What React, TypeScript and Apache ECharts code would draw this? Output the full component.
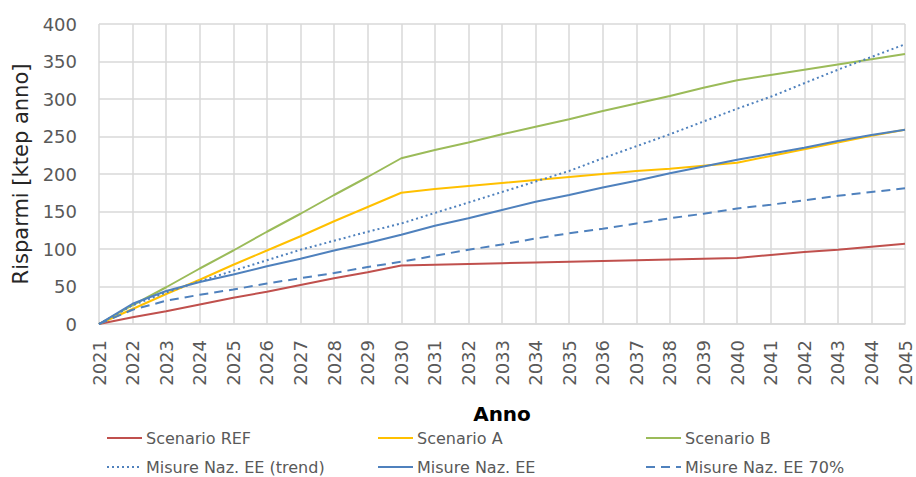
import React, { useEffect, useRef } from "react";
import * as echarts from "echarts";

const years = [
  "2021", "2022", "2023", "2024", "2025", "2026", "2027", "2028", "2029", "2030",
  "2031", "2032", "2033", "2034", "2035", "2036", "2037", "2038", "2039", "2040",
  "2041", "2042", "2043", "2044", "2045",
];

const scenarioRef = [0, 9, 17, 26, 35, 43, 52, 61, 69, 78, 79, 80, 81, 82, 83, 84, 85, 86, 87, 88, 92, 96, 99, 103, 107];
const scenarioA = [0, 20, 40, 59, 79, 98, 117, 137, 156, 175, 180, 184, 188, 192, 196, 200, 204, 207, 211, 215, 224, 233, 242, 251, 259];
const scenarioB = [0, 25, 49, 74, 98, 123, 147, 172, 196, 221, 232, 242, 253, 263, 273, 284, 294, 304, 315, 325, 332, 339, 346, 353, 360];
const misureTrend = [0, 25, 42, 57, 71, 85, 99, 111, 123, 134, 148, 162, 176, 190, 204, 221, 237, 253, 270, 287, 303, 321, 339, 356, 373];
const misure = [0, 27, 44, 56, 66, 77, 87, 98, 108, 119, 131, 141, 152, 163, 172, 182, 191, 201, 210, 219, 227, 235, 244, 252, 259];
const misure70 = [0, 19, 31, 39, 46, 54, 61, 68, 76, 83, 91, 99, 106, 114, 121, 127, 134, 141, 147, 154, 159, 165, 171, 176, 181];

const seriesNames = [
  "Scenario REF",
  "Scenario A",
  "Scenario B",
  "Misure Naz. EE (trend)",
  "Misure Naz. EE",
  "Misure Naz. EE 70%",
];

const FONT = "DejaVu Sans";

export default function App() {
  const ref = useRef<HTMLDivElement>(null);

  useEffect(() => {
    if (!ref.current) return;
    const chart = echarts.init(ref.current, undefined, { renderer: "svg" });

    const mkSeries = (name: string, data: number[], color: string, type: any) => ({
      name,
      type: "line",
      data,
      symbol: "none",
      showSymbol: false,
      smooth: false,
      color,
      lineStyle: { color, width: 2, type },
    });

    const legendCols = [106, 377, 645];
    const legendRows = [430, 459];
    const legends = seriesNames.map((n, i) => ({
      data: [n],
      left: legendCols[i % 3],
      top: legendRows[Math.floor(i / 3)],
      itemWidth: 35,
      itemHeight: 14,
      itemGap: 0,
      padding: 0,
      itemStyle: { opacity: 0, borderWidth: 0 },
      lineStyle: { width: 2 },
      textStyle: { fontFamily: FONT, fontSize: 16, color: "#595959", padding: [0, 0, 0, -1] },
    }));

    chart.setOption({
      animation: false,
      backgroundColor: "#ffffff",
      textStyle: { fontFamily: FONT },
      grid: { left: 99, right: 11, top: 24, bottom: 153, containLabel: false, outerBoundsMode: "none" },
      legend: legends,
      xAxis: {
        type: "category",
        data: years,
        boundaryGap: false,
        name: "Anno",
        nameLocation: "middle",
        nameGap: 80,
        nameTextStyle: { fontFamily: FONT, fontSize: 20, fontWeight: "bold", color: "#000000" },
        axisLine: { show: true, lineStyle: { color: "#D9D9D9", width: 1.5 } },
        axisTick: { show: false },
        axisLabel: { rotate: 90, fontSize: 18, color: "#595959", margin: 16, fontFamily: FONT, interval: 0 },
        splitLine: { show: true, interval: 0, lineStyle: { color: "#D9D9D9", width: 1.5 } },
      },
      yAxis: {
        type: "value",
        min: 0,
        max: 400,
        interval: 50,
        name: "Risparmi [ktep anno]",
        nameLocation: "middle",
        nameGap: 66,
        nameTextStyle: { fontFamily: FONT, fontSize: 21, color: "#262626" },
        axisLine: { show: false },
        axisTick: { show: false },
        axisLabel: { fontSize: 18, color: "#595959", margin: 22, fontFamily: FONT },
        splitLine: { show: true, lineStyle: { color: "#D9D9D9", width: 1.5 } },
      },
      series: [
        mkSeries(seriesNames[0], scenarioRef, "#C0504D", "solid"),
        mkSeries(seriesNames[1], scenarioA, "#FFC000", "solid"),
        mkSeries(seriesNames[2], scenarioB, "#9BBB59", "solid"),
        mkSeries(seriesNames[3], misureTrend, "#4F81BD", [2, 3]),
        mkSeries(seriesNames[4], misure, "#4F81BD", "solid"),
        mkSeries(seriesNames[5], misure70, "#4F81BD", [9, 6]),
      ],
    });

    return () => {
      chart.dispose();
    };
  }, []);

  return (
    <div
      ref={ref}
      style={{ position: "fixed", left: 0, top: 0, width: 916, height: 477, background: "#fff" }}
    />
  );
}
